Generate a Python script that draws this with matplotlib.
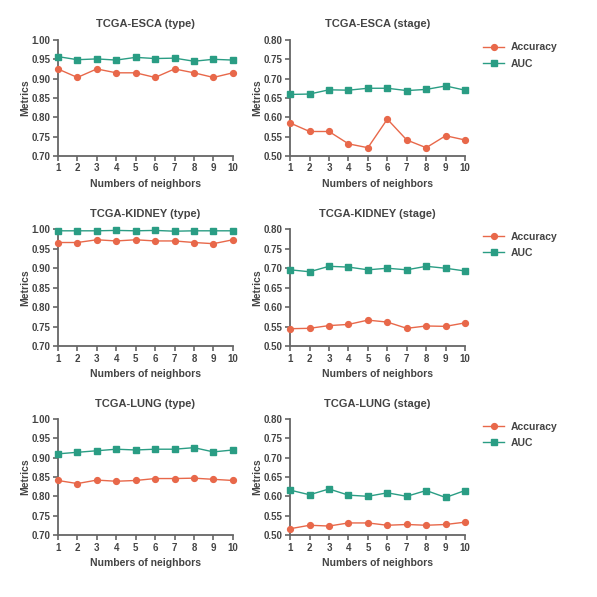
import numpy as np
import matplotlib
matplotlib.use('Agg')
import matplotlib.pyplot as plt

neighbors = np.arange(1, 11)

esca_type_acc = [0.925, 0.903, 0.925, 0.915, 0.915, 0.903, 0.925, 0.915, 0.903, 0.915]
esca_type_auc = [0.957, 0.949, 0.951, 0.948, 0.955, 0.952, 0.953, 0.945, 0.950, 0.948]
esca_stage_acc = [0.585, 0.563, 0.563, 0.531, 0.521, 0.595, 0.541, 0.521, 0.552, 0.541]
esca_stage_auc = [0.659, 0.660, 0.671, 0.670, 0.675, 0.675, 0.669, 0.672, 0.681, 0.670]
kidney_type_acc = [0.966, 0.966, 0.973, 0.970, 0.973, 0.970, 0.970, 0.966, 0.963, 0.973]
kidney_type_auc = [0.996, 0.996, 0.996, 0.997, 0.996, 0.997, 0.995, 0.996, 0.996, 0.996]
kidney_stage_acc = [0.545, 0.546, 0.553, 0.556, 0.567, 0.562, 0.546, 0.552, 0.551, 0.560]
kidney_stage_auc = [0.696, 0.691, 0.705, 0.703, 0.696, 0.700, 0.696, 0.705, 0.700, 0.693]
lung_type_acc = [0.841, 0.833, 0.842, 0.839, 0.841, 0.846, 0.846, 0.847, 0.844, 0.841]
lung_type_auc = [0.910, 0.914, 0.918, 0.922, 0.920, 0.922, 0.922, 0.926, 0.915, 0.920]
lung_stage_acc = [0.516, 0.525, 0.523, 0.531, 0.531, 0.525, 0.527, 0.525, 0.527, 0.533]
lung_stage_auc = [0.616, 0.604, 0.619, 0.603, 0.600, 0.609, 0.600, 0.615, 0.597, 0.615]

panels = [
    ('TCGA-ESCA (type)', esca_type_acc, esca_type_auc, 0.70, 1.00),
    ('TCGA-ESCA (stage)', esca_stage_acc, esca_stage_auc, 0.50, 0.80),
    ('TCGA-KIDNEY (type)', kidney_type_acc, kidney_type_auc, 0.70, 1.00),
    ('TCGA-KIDNEY (stage)', kidney_stage_acc, kidney_stage_auc, 0.50, 0.80),
    ('TCGA-LUNG (type)', lung_type_acc, lung_type_auc, 0.70, 1.00),
    ('TCGA-LUNG (stage)', lung_stage_acc, lung_stage_auc, 0.50, 0.80),
]

acc_color = '#E8684A'
auc_color = '#2A9D84'
axis_color = '#666666'
text_color = '#444444'

plt.rcParams['font.family'] = ['Liberation Sans', 'DejaVu Sans']
plt.rcParams['font.weight'] = 'bold'

fig = plt.figure(figsize=(5.97, 5.97), dpi=100)

col_x = [0.097, 0.486]
row_y = [(0.739, 0.194), (0.420, 0.196), (0.104, 0.194)]

for k, (title, acc, auc, ymin, ymax) in enumerate(panels):
    r, c = divmod(k, 2)
    ax = fig.add_axes([col_x[c], row_y[r][0], 0.293, row_y[r][1]])
    ax.plot(neighbors, acc, '-o', color=acc_color, lw=1.0, ms=4.2,
            label='Accuracy', clip_on=False, zorder=3)
    ax.plot(neighbors, auc, '-s', color=auc_color, lw=1.0, ms=4.2,
            label='AUC', clip_on=False, zorder=3)
    ax.set_xlim(1, 10)
    ax.set_ylim(ymin, ymax)
    ax.set_xticks(neighbors)
    ax.set_yticks(np.round(np.arange(ymin, ymax + 0.001, 0.05), 2))
    ax.yaxis.set_major_formatter(matplotlib.ticker.FormatStrFormatter('%.2f'))
    for s in ['top', 'right']:
        ax.spines[s].set_visible(False)
    for s in ['left', 'bottom']:
        ax.spines[s].set_color(axis_color)
        ax.spines[s].set_linewidth(1.3)
    ax.tick_params(colors=axis_color, width=1.2, length=3.5, labelsize=7,
                   labelcolor=text_color, pad=2)
    for lab in ax.get_xticklabels() + ax.get_yticklabels():
        lab.set_fontweight('bold')
    ax.set_title(title, fontsize=8, fontweight='bold', color=text_color, pad=9)
    ax.set_xlabel('Numbers of neighbors', fontsize=7.5, fontweight='bold',
                  color=text_color, labelpad=4)
    ax.set_ylabel('Metrics', fontsize=7.5, fontweight='bold', color=text_color,
                  labelpad=1)
    if c == 1:
        leg = ax.legend(loc='upper left', bbox_to_anchor=(1.05, 1.06),
                        frameon=False, fontsize=7.5, handlelength=2.0,
                        handletextpad=0.6, labelspacing=0.6)
        for t in leg.get_texts():
            t.set_color(text_color)
            t.set_fontweight('bold')

fig.savefig('out.png', dpi=100)
